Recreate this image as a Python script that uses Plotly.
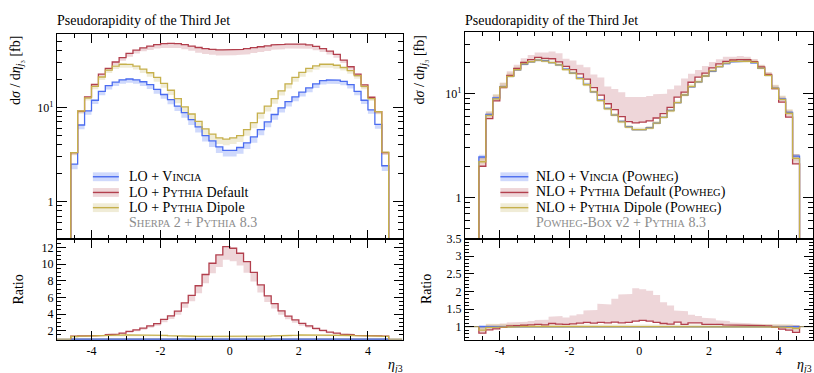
import numpy as np
import plotly.graph_objects as go

W, H = 814, 373

# ---------------- data ----------------
eta_edges = np.round(np.linspace(-4.6, 4.6, 47), 2)
x_ticks = [-4, -2, 0, 2, 4]
x_ticktext = ["-4", "-2", "0", "2", "4"]

# LO panel (Sherpa 2 + Pythia 8.3), dsigma/deta [fb]
lo_vincia = [2.5, 6.5, 9.2, 11.9, 14.8, 17.0, 18.5, 19.6, 20.0, 19.6, 18.7, 17.4, 15.5, 13.7, 12.1, 10.3, 8.8, 7.4, 6.2, 5.0, 4.4, 3.8, 3.5,
             3.5, 3.75, 4.2, 4.85, 5.8, 7.0, 8.4, 9.9, 11.5, 12.9, 14.5, 16.1, 17.8, 19.2, 19.6, 19.5, 18.9, 17.4, 14.8, 11.9, 9.4, 6.6, 2.4]
lo_default = [3.3, 9.1, 12.9, 17.5, 22.5, 26.0, 30.3, 33.7, 37.5, 40.5, 42.8, 44.8, 46.4, 47.5, 47.9, 47.5, 46.4, 44.8, 43.2, 42.0, 41.2, 40.8, 40.8,
              41.0, 41.3, 42.0, 43.0, 44.0, 45.0, 46.0, 46.6, 47.0, 47.2, 47.0, 46.0, 44.5, 42.0, 39.5, 36.5, 31.8, 27.0, 22.5, 17.3, 12.8, 9.0, 3.3]
lo_dipole = [3.3, 9.15, 12.6, 16.7, 21.0, 24.9, 27.4, 28.7, 28.6, 27.4, 25.5, 23.3, 20.8, 18.0, 15.2, 12.4, 10.1, 8.5, 7.1, 5.9, 5.2, 4.75, 4.6,
             4.75, 5.0, 5.8, 6.9, 8.7, 10.3, 12.4, 15.0, 17.8, 20.8, 23.5, 26.0, 27.6, 28.7, 28.7, 28.0, 26.5, 24.5, 21.7, 16.7, 12.4, 9.0, 3.35]
lo_vincia_band_dn = [0.12, 0.10, 0.09, 0.09, 0.09, 0.09, 0.09, 0.09, 0.09, 0.09, 0.10, 0.10, 0.10, 0.10, 0.11, 0.11, 0.12, 0.12, 0.13, 0.13, 0.14, 0.14, 0.14,
                     0.14, 0.14, 0.14, 0.13, 0.13, 0.12, 0.12, 0.11, 0.11, 0.10, 0.10, 0.10, 0.10, 0.09, 0.09, 0.09, 0.09, 0.09, 0.09, 0.09, 0.09, 0.10, 0.12]
lo_default_band_dn = [0.05, 0.05, 0.05, 0.05, 0.06, 0.06, 0.07, 0.07, 0.08, 0.08, 0.08, 0.09, 0.09, 0.10, 0.10, 0.10, 0.11, 0.11, 0.12, 0.12, 0.12, 0.13, 0.13,
                      0.13, 0.13, 0.13, 0.12, 0.12, 0.12, 0.11, 0.11, 0.10, 0.10, 0.10, 0.09, 0.09, 0.08, 0.08, 0.08, 0.07, 0.07, 0.06, 0.06, 0.05, 0.05, 0.05]
lo_dipole_band_dn = [0.06, 0.06, 0.06, 0.07, 0.07, 0.07, 0.07, 0.08, 0.08, 0.08, 0.09, 0.09, 0.10, 0.10, 0.11, 0.11, 0.12, 0.12, 0.13, 0.13, 0.14, 0.14, 0.14,
                     0.14, 0.14, 0.14, 0.13, 0.13, 0.12, 0.12, 0.11, 0.11, 0.10, 0.10, 0.09, 0.09, 0.08, 0.08, 0.08, 0.07, 0.07, 0.07, 0.07, 0.06, 0.06, 0.06]
lo_ratio_default = [1.35, 1.40, 1.40, 1.42, 1.45, 1.53, 1.60, 1.73, 1.92, 2.12, 2.31, 2.59, 2.85, 3.37, 3.80, 4.35, 5.35, 6.24, 7.40, 8.75, 10.1, 11.1, 12.1,
                    11.9, 11.3, 10.3, 9.0, 7.5, 6.2, 5.25, 4.4, 3.76, 3.3, 2.9, 2.6, 2.3, 2.04, 1.84, 1.73, 1.60, 1.53, 1.45, 1.42, 1.40, 1.40, 1.35]
lo_ratio_dipole = [1.32, 1.36, 1.37, 1.40, 1.42, 1.45, 1.48, 1.50, 1.52, 1.53, 1.52, 1.51, 1.49, 1.46, 1.43, 1.40, 1.37, 1.35, 1.33, 1.31, 1.30, 1.30, 1.30,
                   1.30, 1.30, 1.31, 1.33, 1.35, 1.37, 1.40, 1.43, 1.46, 1.49, 1.51, 1.52, 1.53, 1.52, 1.50, 1.48, 1.46, 1.44, 1.42, 1.40, 1.38, 1.36, 1.33]

# NLO panel (Powheg-Box v2 + Pythia 8.3)
nlo_vincia = [2.45, 6.3, 9.1, 11.7, 14.7, 17.0, 19.2, 20.3, 21.0, 20.8, 19.9, 18.9, 17.2, 15.8, 14.1, 12.3, 10.4, 8.65, 7.2, 6.2, 5.4, 4.8, 4.5,
              4.5, 4.7, 5.2, 5.9, 6.9, 8.2, 9.7, 11.6, 13.0, 14.8, 16.4, 18.2, 19.5, 20.3, 20.6, 20.6, 19.8, 17.6, 15.0, 11.3, 8.9, 6.6, 2.5]
nlo_vincia_band = [0.05, 0.03, 0.03, 0.03, 0.02, 0.02, 0.02, 0.02, 0.02, 0.02, 0.02, 0.02, 0.02, 0.02, 0.02, 0.02, 0.02, 0.02, 0.02, 0.02, 0.02, 0.02, 0.02,
                   0.02, 0.02, 0.02, 0.02, 0.02, 0.02, 0.02, 0.02, 0.02, 0.02, 0.02, 0.02, 0.02, 0.02, 0.02, 0.02, 0.02, 0.02, 0.02, 0.03, 0.03, 0.03, 0.05]
nlo_ratio_default = [0.815, 0.91, 0.935, 0.98, 1.02, 1.03, 1.04, 1.05, 1.065, 1.05, 1.09, 1.07, 1.065, 1.08, 1.10, 1.12, 1.10, 1.12, 1.11, 1.13, 1.11, 1.12, 1.16,
                     1.18, 1.16, 1.12, 1.09, 1.07, 1.13, 1.065, 1.11, 1.11, 1.065, 1.08, 1.065, 1.05, 1.04, 1.035, 1.03, 1.03, 1.03, 1.02, 0.99, 0.93, 0.90, 0.84]
nlo_ratio_default_band_hi = [1.0, 1.06, 1.07, 1.09, 1.12, 1.12, 1.14, 1.16, 1.19, 1.20, 1.28, 1.30, 1.26, 1.32, 1.35, 1.46, 1.47, 1.65, 1.63, 1.79, 1.91, 1.93, 2.09,
                             2.06, 2.02, 1.90, 1.69, 1.60, 1.46, 1.44, 1.34, 1.30, 1.25, 1.23, 1.18, 1.16, 1.12, 1.12, 1.10, 1.09, 1.08, 1.07, 1.065, 1.06, 1.06, 1.05]
nlo_ratio_dipole = [0.90, 0.98, 0.98, 0.99, 1.0, 1.0, 1.01, 1.0, 1.0, 0.99, 1.0, 1.0, 0.99, 1.0, 0.99, 0.99, 1.0, 0.99, 0.99, 1.0, 0.99, 0.99, 1.0,
                    1.0, 0.99, 1.0, 1.0, 0.99, 1.0, 1.0, 1.01, 1.0, 1.0, 1.01, 1.0, 1.01, 1.01, 1.0, 1.0, 1.01, 1.0, 1.0, 1.0, 0.99, 0.98, 0.95]
nlo_ratio_dipole_band_lo = [0.86, 0.93, 0.95, 0.96, 0.97, 0.97, 0.98, 0.97, 0.97, 0.96, 0.97, 0.97, 0.96, 0.97, 0.96, 0.96, 0.97, 0.96, 0.96, 0.97, 0.96, 0.96, 0.97,
                            0.97, 0.96, 0.97, 0.97, 0.96, 0.97, 0.97, 0.98, 0.97, 0.97, 0.98, 0.97, 0.98, 0.98, 0.97, 0.97, 0.98, 0.97, 0.97, 0.96, 0.95, 0.94, 0.90]
nlo_ratio_dipole_band_hi = [1.0, 1.08, 1.09, 1.09, 1.08, 1.07, 1.07, 1.06, 1.06, 1.05, 1.05, 1.05, 1.04, 1.05, 1.04, 1.04, 1.05, 1.04, 1.04, 1.05, 1.04, 1.04, 1.05,
                            1.05, 1.04, 1.05, 1.05, 1.04, 1.05, 1.05, 1.06, 1.05, 1.05, 1.06, 1.05, 1.06, 1.06, 1.06, 1.06, 1.07, 1.07, 1.07, 1.08, 1.08, 1.07, 1.04]

# ---------------- style ----------------
FONT = "Liberation Serif"
C_V, F_V = "#4b6cf0", "rgba(95,128,245,0.30)"
C_P, F_P = "#b23f4d", "rgba(190,95,110,0.26)"
C_D, F_D = "#c6b04c", "rgba(200,188,110,0.28)"
C_REF = "#9b8e62"


def steps(vals, base=None):
    xs, ys = [], []
    if base is not None:
        xs.append(eta_edges[0]); ys.append(base)
    for i, v in enumerate(vals):
        xs += [eta_edges[i], eta_edges[i + 1]]
        ys += [v, v]
    if base is not None:
        xs.append(eta_edges[-1]); ys.append(base)
    return xs, ys


def band_poly(lo, hi):
    xh, yh = steps(hi)
    xl, yl = steps(lo)
    return xh + xl[::-1], yh + yl[::-1]


fig = go.Figure()


def add_band(lo, hi, color, xa, ya):
    xs, ys = band_poly(lo, hi)
    fig.add_trace(go.Scatter(x=xs, y=ys, mode="lines", fill="toself", fillcolor=color,
                             line=dict(width=0), hoverinfo="skip", showlegend=False,
                             xaxis=xa, yaxis=ya))


def add_line(vals, color, xa, ya, base):
    xs, ys = steps(vals, base)
    fig.add_trace(go.Scatter(x=xs, y=ys, mode="lines", line=dict(color=color, width=1.3),
                             hoverinfo="skip", showlegend=False, xaxis=xa, yaxis=ya))


a = np.array
# ---- LO main ----
lv, lp, ld = a(lo_vincia), a(lo_default), a(lo_dipole)
add_band(lv * (1 - a(lo_vincia_band_dn)), lv, F_V, "x", "y")
add_band(lp * (1 - a(lo_default_band_dn)), lp, F_P, "x", "y")
add_band(ld * (1 - a(lo_dipole_band_dn)), ld, F_D, "x", "y")
add_line(lv, C_V, "x", "y", 1e-3)
add_line(lp, C_P, "x", "y", 1e-3)
add_line(ld, C_D, "x", "y", 1e-3)

# ---- LO ratio ----
rp, rd = a(lo_ratio_default), a(lo_ratio_dipole)
ones = np.ones(len(lo_vincia))
add_band(ones * (1 - a(lo_vincia_band_dn)), ones, F_V, "x2", "y2")
add_band(rp * (1 - a(lo_default_band_dn)), rp, F_P, "x2", "y2")
add_band(rd * (1 - a(lo_dipole_band_dn)), rd, F_D, "x2", "y2")
fig.add_trace(go.Scatter(x=[-5, 5], y=[1, 1], mode="lines", line=dict(color=C_REF, width=1.3),
                         hoverinfo="skip", showlegend=False, xaxis="x2", yaxis="y2"))
add_line(ones, C_V, "x2", "y2", 1)
add_line(rp, C_P, "x2", "y2", 1)
add_line(rd, C_D, "x2", "y2", 1)

# ---- NLO main ----
nv = a(nlo_vincia)
nb = a(nlo_vincia_band)
nrp, nrph = a(nlo_ratio_default), a(nlo_ratio_default_band_hi)
nrd, nrdl, nrdh = a(nlo_ratio_dipole), a(nlo_ratio_dipole_band_lo), a(nlo_ratio_dipole_band_hi)
np_main = nv * nrp
nd_main = nv * nrd
add_band(nv * (1 - nb), nv * (1 + nb), F_V, "x3", "y3")
add_band(np.minimum(np_main, nv * nrph), nv * nrph, F_P, "x3", "y3")
add_band(nv * nrdl, nv * nrdh, F_D, "x3", "y3")
add_line(nv, C_V, "x3", "y3", 1e-3)
add_line(np_main, C_P, "x3", "y3", 1e-3)
add_line(nd_main, C_D, "x3", "y3", 1e-3)

# ---- NLO ratio ----
add_band(1 - nb, 1 + nb, F_V, "x4", "y4")
add_band(np.minimum(nrp, nrph), nrph, F_P, "x4", "y4")
add_band(nrdl, nrdh, F_D, "x4", "y4")
fig.add_trace(go.Scatter(x=[-5, 5], y=[1, 1], mode="lines", line=dict(color=C_REF, width=1.3),
                         hoverinfo="skip", showlegend=False, xaxis="x4", yaxis="y4"))
add_line(np.ones(len(nv)), C_V, "x4", "y4", 1)
add_line(nrp, C_P, "x4", "y4", 1)
add_line(nrd, C_D, "x4", "y4", 1)

# ---------------- axes ----------------
def px(x):
    return x / W


def py(y):
    return 1 - y / H


tickfont = dict(family=FONT, size=12, color="black")
common = dict(showline=True, linecolor="black", linewidth=1, mirror="allticks", ticks="inside",
              tickcolor="black", showgrid=False, zeroline=False, tickfont=tickfont)

xL = [px(57), px(403)]
xR = [px(465.5), 1.0]
y_main_L = [py(236), py(28)]
y_main_R = [py(236), py(25.5)]
y_ratio = [py(339.3), py(236)]

xminor = dict(dtick=0.5, tick0=0, ticks="inside", ticklen=4, tickcolor="black")
log_minor = [0.4, 0.5, 0.6, 0.7, 0.8, 0.9, 2, 3, 4, 5, 6, 7, 8, 9, 20, 30, 40, 50]

fig.update_layout(
    width=W, height=H, margin=dict(l=0, r=0, t=0, b=0),
    paper_bgcolor="white", plot_bgcolor="white", showlegend=False,
    xaxis=dict(domain=xL, range=[-5, 5], anchor="y", tickmode="array", tickvals=x_ticks,
               showticklabels=False, ticklen=9, minor=xminor, **common),
    yaxis=dict(domain=y_main_L, type="log", range=[-0.393, 1.774], anchor="x", tickmode="array",
               tickvals=[1, 10], ticktext=["1", "10<sup>1</sup>"], ticklen=10,
               minor=dict(tickmode="array", tickvals=log_minor, ticks="inside", ticklen=5, tickcolor="black"),
               **common),
    xaxis2=dict(domain=xL, range=[-5, 5], anchor="y2", tickmode="array", tickvals=x_ticks,
                ticktext=x_ticktext, ticklen=9, minor=xminor, **common),
    yaxis2=dict(domain=y_ratio, range=[0.906, 13.06], anchor="x2", tickmode="array",
                tickvals=[2, 4, 6, 8, 10, 12], ticklen=9,
                minor=dict(dtick=0.5, tick0=0, ticks="inside", ticklen=4, tickcolor="black"), **common),
    xaxis3=dict(domain=xR, range=[-5, 4.986], anchor="y3", tickmode="array", tickvals=x_ticks,
                showticklabels=False, ticklen=9, minor=xminor, **common),
    yaxis3=dict(domain=y_main_R, type="log", range=[-0.397, 1.594], anchor="x3", tickmode="array",
                tickvals=[1, 10], ticktext=["1", "10<sup>1</sup>"], ticklen=10,
                minor=dict(tickmode="array", tickvals=log_minor, ticks="inside", ticklen=5, tickcolor="black"),
                **common),
    xaxis4=dict(domain=xR, range=[-5, 4.986], anchor="y4", tickmode="array", tickvals=x_ticks,
                ticktext=x_ticktext, ticklen=9, minor=xminor, **common),
    yaxis4=dict(domain=y_ratio, range=[0.624, 3.5], anchor="x4", tickmode="array",
                tickvals=[1, 1.5, 2, 2.5, 3, 3.5], ticktext=["1", "1.5", "2", "2.5", "3", "3.5"], ticklen=9,
                minor=dict(dtick=0.1, tick0=0, ticks="inside", ticklen=4, tickcolor="black"), **common),
)

# ---------------- texts ----------------
SC = 10.5


def sc(word, size=SC):
    return word[0] + "<span style='font-size:%.1fpx'>%s</span>" % (size, word[1:].upper())


ann = []


def text(x, y, s, size=14, color="black", xanchor="left", yanchor="middle", angle=0):
    ann.append(dict(x=px(x), y=py(y), xref="paper", yref="paper", text=s, showarrow=False,
                    xanchor=xanchor, yanchor=yanchor, textangle=angle,
                    font=dict(family=FONT, size=size, color=color)))


text(55, 14, "Pseudorapidity of the Third Jet", 14)
text(464, 14, "Pseudorapidity of the Third Jet", 14)
ylab = "d<i>σ</i> / d<i>η</i><sub><i>j</i>₃</sub> [fb]"
text(17, 27, ylab, 14, xanchor="center", yanchor="top", angle=-90)
text(422, 27, ylab, 14, xanchor="center", yanchor="top", angle=-90)
text(19, 288, "Ratio", 14, xanchor="center", angle=-90)
text(427, 287, "Ratio", 14, xanchor="center", angle=-90)
xlab = "<i>η</i><sub><i>j</i>3</sub>"
text(405, 365, xlab, 14, xanchor="right")
text(815, 365, xlab, 14, xanchor="right")

shapes = []
legends = [
    (93, 119, 127, [
        ("LO + " + sc("Vincia"), C_V, F_V),
        ("LO + " + sc("Pythia") + " Default", C_P, F_P),
        ("LO + " + sc("Pythia") + " Dipole", C_D, F_D)],
     sc("Sherpa") + " 2 + " + sc("Pythia") + " 8.3"),
    (501, 529, 535, [
        ("NLO + " + sc("Vincia") + " (" + sc("Powheg") + ")", C_V, F_V),
        ("NLO + " + sc("Pythia") + " Default (" + sc("Powheg") + ")", C_P, F_P),
        ("NLO + " + sc("Pythia") + " Dipole (" + sc("Powheg") + ")", C_D, F_D)],
     sc("Powheg") + "-B" + "<span style='font-size:%.1fpx'>OX</span> v2 + " % SC + sc("Pythia") + " 8.3"),
]
rows = [173, 189, 204.5]
for x0, x1, xt, entries, extra in legends:
    for (lab, lc, fc), yr in zip(entries, rows):
        shapes.append(dict(type="rect", xref="paper", yref="paper", x0=px(x0), x1=px(x1),
                           y0=py(yr + 4.5), y1=py(yr - 4.5), fillcolor=fc, line=dict(width=0)))
        shapes.append(dict(type="line", xref="paper", yref="paper", x0=px(x0), x1=px(x1),
                           y0=py(yr), y1=py(yr), line=dict(color=lc, width=1.4)))
        text(xt, yr, lab, 14)
    text(xt, 220, extra, 14, color="#8c8c8c")

fig.update_layout(annotations=ann, shapes=shapes)
fig.write_html("out.html", config={"displayModeBar": False},
               post_script="document.body.style.margin='0';document.body.style.overflow='hidden';")
